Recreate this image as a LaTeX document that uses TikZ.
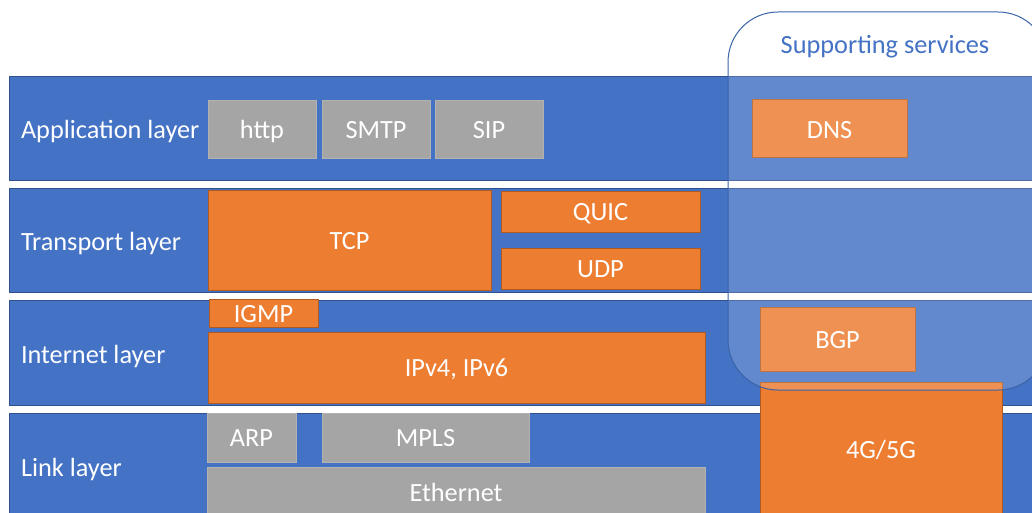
\documentclass[tikz,border=0pt]{standalone}
\usepackage{fontspec}
\setmainfont{Carlito}
\definecolor{bandblue}{HTML}{4472C4}
\definecolor{bandedge}{HTML}{2F528F}
\definecolor{orfill}{HTML}{ED7D31}
\definecolor{oredge}{HTML}{AE5A21}
\definecolor{grfill}{HTML}{A5A5A5}
\definecolor{svcedge}{HTML}{3A64A8}
\begin{document}
\begin{tikzpicture}[x=1pt,y=-1pt,
  every node/.style={font=\fontsize{26.3}{30}\selectfont, text=white, inner sep=0pt, outer sep=0pt,
    text height=21pt, text depth=2.3pt},
  band/.style={fill=bandblue, draw=bandedge, line width=0.8pt},
  layerlabel/.style={anchor=west},
  orangebox/.style={fill=orfill, draw=oredge, line width=1pt, anchor=north west},
  greybox/.style={fill=grfill, draw=grfill!85!white, line width=0.6pt, anchor=north west},
  services/.style={draw=svcedge, line width=1pt, fill=white, fill opacity=0.16, rounded corners=50pt}]
\useasboundingbox (0,0) rectangle (1032,513);
\clip (0,0) rectangle (1032,513);

% protocol layers
\draw[band] (9,76) rectangle (1045,180);
\draw[band] (9,188) rectangle (1045,292);
\draw[band] (9,300) rectangle (1045,405);
\draw[band] (9,413) rectangle (1045,530);

\node[layerlabel] (app) at (21,129) {Application layer};
\node[layerlabel] (trn) at (21,241) {Transport layer};
\node[layerlabel] (inet) at (21,354) {Internet layer};
\node[layerlabel] (link) at (21,467) {Link layer};

% application layer
\node[greybox, minimum width=108pt, minimum height=58pt] (http) at (208,100) {http};
\node[greybox, minimum width=108pt, minimum height=58pt] (smtp) at (322,100) {SMTP};
\node[greybox, minimum width=108pt, minimum height=58pt] (sip) at (435,100) {SIP};
\node[orangebox, minimum width=155pt, minimum height=58pt] (dns) at (752,100) {DNS};

% transport layer
\node[orangebox, minimum width=283pt, minimum height=100pt] (tcp) at (208,190) {TCP};
\node[orangebox, minimum width=199pt, minimum height=41pt] (quic) at (501,191) {QUIC};
\node[orangebox, minimum width=199pt, minimum height=41pt] (udp) at (501,248) {UDP};

% internet layer
\node[orangebox, minimum width=109pt, minimum height=28pt] (igmp) at (209,299) {IGMP};
\node[orangebox, minimum width=497pt, minimum height=71pt] (ip) at (208,332) {IPv4, IPv6};
\node[orangebox, minimum width=155pt, minimum height=64pt] (bgp) at (760,307) {BGP};

% link layer
\node[greybox, minimum width=89pt, minimum height=49pt] (arp) at (207,413) {ARP};
\node[greybox, minimum width=207pt, minimum height=49pt] (mpls) at (322,413) {MPLS};
\node[greybox, minimum width=498pt, minimum height=50pt] (eth) at (207,467) {Ethernet};
\node[orangebox, minimum width=242pt, minimum height=134pt] (mobile) at (760,382) {4G/5G};

% supporting services overlay
\draw[services] (728,12) rectangle (1048,390);
\node[text=bandblue] (svc) at (885,44) {Supporting services};
\end{tikzpicture}
\end{document}
